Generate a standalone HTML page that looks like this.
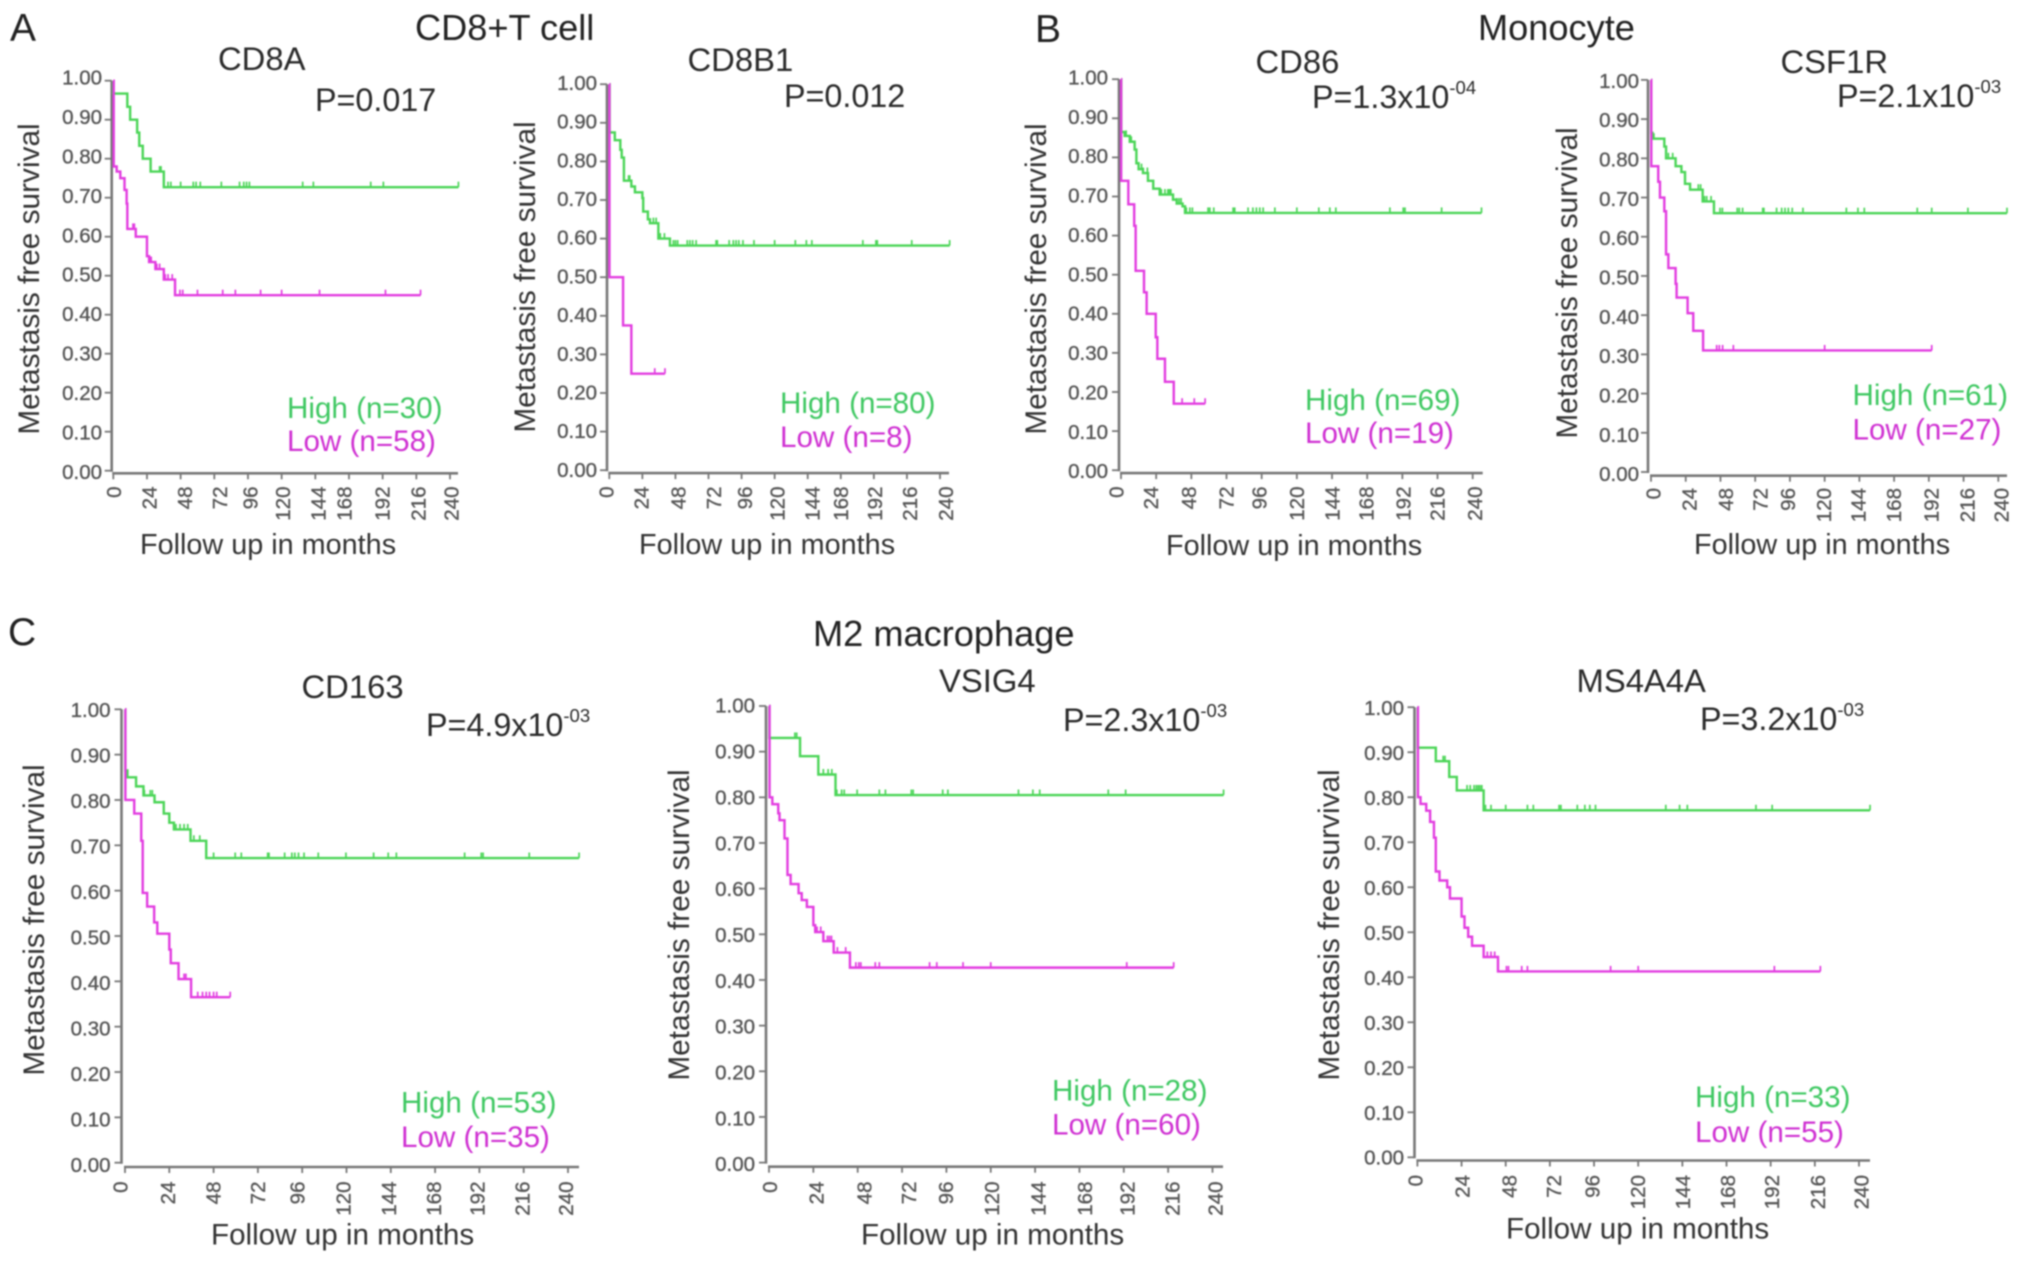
<!DOCTYPE html>
<html lang="en">
<head>
<meta charset="utf-8">
<title>Metastasis free survival by immune cell marker</title>
<style>
html,body{margin:0;padding:0;background:#fff;}
body{width:2031px;height:1263px;overflow:hidden;}
svg{display:block;filter:blur(0.8px);font-family:"Liberation Sans",Arial,sans-serif;}
.sec{font-size:36.2px;fill:#222;}
.let{font-size:39px;fill:#222;}
.gene{font-size:32.8px;fill:#2a2a2a;}
.pv{font-size:32.3px;fill:#2a2a2a;}
.sup{font-size:18.5px;}
.hi{font-size:29.6px;fill:#3fc862;}
.lo{font-size:29.6px;fill:#cf30d2;}
.yt{font-size:29.8px;fill:#333;text-anchor:middle;}
.xt{font-size:28.8px;fill:#333;}
.xtc{font-size:29.6px;fill:#333;}
.tk{font-size:20.5px;fill:#555;stroke:#555;stroke-width:0.35px;}
.tx{font-size:20.5px;fill:#555;stroke:#555;stroke-width:0.35px;}
</style>
</head>
<body>
<svg id="chart" width="2031" height="1263" viewBox="0 0 2031 1263" xmlns="http://www.w3.org/2000/svg">
<rect width="2031" height="1263" fill="#fff"/>

<text class="let" x="10" y="41">A</text>
<text class="sec" x="415" y="40">CD8+T cell</text>
<text class="let" x="1035" y="42">B</text>
<text class="sec" x="1478" y="40">Monocyte</text>
<text class="let" x="8" y="645">C</text>
<text class="sec" x="813" y="646">M2 macrophage</text>

<g>
<text class="gene" x="218" y="70">CD8A</text>
<text class="pv" x="315" y="111">P=0.017</text>
<text class="hi" x="287" y="418">High (n=30)</text>
<text class="lo" x="287" y="451">Low (n=58)</text>
<text class="yt" transform="translate(39,279) rotate(-90)">Metastasis free survival</text>
<text class="xt" x="140" y="554">Follow up in months</text>
</g>

<g>
<text class="gene" x="687.5" y="71">CD8B1</text>
<text class="pv" x="784" y="107">P=0.012</text>
<text class="hi" x="780" y="413">High (n=80)</text>
<text class="lo" x="780" y="447">Low (n=8)</text>
<text class="yt" transform="translate(535,277) rotate(-90)">Metastasis free survival</text>
<text class="xt" x="639" y="554">Follow up in months</text>
</g>

<g>
<text class="gene" x="1255.5" y="73">CD86</text>
<text class="pv" x="1312" y="108">P=1.3x10<tspan class="sup" dy="-14">-04</tspan></text>
<text class="hi" x="1305" y="410">High (n=69)</text>
<text class="lo" x="1305" y="443">Low (n=19)</text>
<text class="yt" transform="translate(1046,279) rotate(-90)">Metastasis free survival</text>
<text class="xt" x="1166" y="555">Follow up in months</text>
</g>

<g>
<text class="gene" x="1780.5" y="73">CSF1R</text>
<text class="pv" x="1837" y="107">P=2.1x10<tspan class="sup" dy="-14">-03</tspan></text>
<text class="hi" x="1852.5" y="405">High (n=61)</text>
<text class="lo" x="1852.5" y="439.5">Low (n=27)</text>
<text class="yt" transform="translate(1577,283) rotate(-90)">Metastasis free survival</text>
<text class="xt" x="1694" y="554">Follow up in months</text>
</g>

<g>
<text class="gene" x="301.5" y="698">CD163</text>
<text class="pv" x="426" y="736">P=4.9x10<tspan class="sup" dy="-14">-03</tspan></text>
<text class="hi" x="401" y="1112.5">High (n=53)</text>
<text class="lo" x="401" y="1147">Low (n=35)</text>
<text class="yt" transform="translate(44,920) rotate(-90)">Metastasis free survival</text>
<text class="xtc" x="211" y="1244.5">Follow up in months</text>
</g>

<g>
<text class="gene" x="939" y="692">VSIG4</text>
<text class="pv" x="1063" y="731">P=2.3x10<tspan class="sup" dy="-14">-03</tspan></text>
<text class="hi" x="1052" y="1100.5">High (n=28)</text>
<text class="lo" x="1052" y="1134.5">Low (n=60)</text>
<text class="yt" transform="translate(689,925) rotate(-90)">Metastasis free survival</text>
<text class="xtc" x="861" y="1244.5">Follow up in months</text>
</g>

<g>
<text class="gene" x="1576.5" y="692">MS4A4A</text>
<text class="pv" x="1700" y="730">P=3.2x10<tspan class="sup" dy="-14">-03</tspan></text>
<text class="hi" x="1695" y="1107">High (n=33)</text>
<text class="lo" x="1695" y="1142">Low (n=55)</text>
<text class="yt" transform="translate(1339,925) rotate(-90)">Metastasis free survival</text>
<text class="xtc" x="1506" y="1238.5">Follow up in months</text>
</g>
</svg>

<script>
const xTickLabels = [0, 24, 48, 72, 96, 120, 144, 168, 192, 216, 240];
const yTickLabels = ['0.00', '0.10', '0.20', '0.30', '0.40', '0.50', '0.60', '0.70', '0.80', '0.90', '1.00'];

const cd8aHighTimes = [0, 0, 10, 12, 17, 18.5, 21, 26.6, 36];
const cd8aHighSurv = [1, 0.967, 0.933, 0.90, 0.867, 0.833, 0.80, 0.767, 0.727];
const cd8aHighCensor = [33, 34, 39, 41, 48, 57, 59, 62, 77, 90, 93, 95, 97, 135, 142.6, 183.5, 192.5, 246];
const cd8aLowTimes = [0, 0.3, 2.4, 5, 8, 9.5, 10, 16, 24, 25.5, 30, 36, 44];
const cd8aLowSurv = [1, 0.78, 0.767, 0.75, 0.72, 0.685, 0.62, 0.60, 0.55, 0.535, 0.517, 0.49, 0.45];
const cd8aLowCensor = [14, 15, 26, 27, 31, 33, 37, 39, 42, 47.5, 49.5, 60, 78, 87, 105, 120, 147, 194, 219];

const cd8b1HighTimes = [0, 0.2, 4, 8, 9, 10.6, 16, 18.6, 24, 24.6, 28, 29.5, 35.6, 44];
const cd8b1HighSurv = [1, 0.875, 0.855, 0.83, 0.81, 0.75, 0.735, 0.72, 0.705, 0.67, 0.65, 0.64, 0.60, 0.582];
const cd8b1HighCensor = [4, 14, 14.8, 32, 34, 37, 40, 46.5, 48, 49.6, 56.6, 58.5, 60.5, 63, 77.5, 78.4, 87, 90, 92, 94, 97, 105, 120, 135, 143, 147, 184, 193.5, 194.5, 219.5, 247];
const cd8b1LowTimes = [0, 0.1, 10, 16];
const cd8b1LowSurv = [1, 0.5, 0.375, 0.25];
const cd8b1LowCensor = [33, 40.4];

const cd86HighTimes = [0, 0.2, 2.5, 6, 9.3, 10.5, 12, 15, 18.4, 22, 26.4, 35.5, 38, 42, 43.7];
const cd86HighSurv = [1, 0.865, 0.855, 0.84, 0.82, 0.785, 0.77, 0.76, 0.74, 0.72, 0.705, 0.692, 0.682, 0.675, 0.658];
const cd86HighCensor = [3.5, 7, 14, 15, 18, 27.5, 30, 32, 33, 34, 38, 39.6, 41, 44.6, 47, 48.7, 59.4, 60.6, 63.3, 76.5, 77.6, 86.7, 90, 92.4, 94.7, 97, 105, 120, 135, 142.5, 146.6, 183.5, 192.6, 193.8, 218.8, 246];
const cd86LowTimes = [0, 0.1, 5, 9, 10, 15.7, 17.5, 23.7, 24.8, 30, 36];
const cd86LowSurv = [1, 0.74, 0.68, 0.625, 0.51, 0.455, 0.40, 0.34, 0.285, 0.226, 0.17];
const cd86LowCensor = [41.7, 50, 57.4];

const csf1rHighTimes = [0, 0.2, 1, 9.2, 10.4, 17, 21, 23.5, 27, 35.7, 43.5];
const csf1rHighSurv = [1, 0.865, 0.85, 0.83, 0.80, 0.78, 0.765, 0.735, 0.72, 0.69, 0.66];
const csf1rHighCensor = [2, 12, 15, 32.7, 34.3, 37, 38.5, 41.5, 47.7, 49.3, 59.6, 61, 63.3, 77.2, 78, 86.8, 90.3, 92.6, 94.9, 97.6, 105, 135, 143, 147.4, 184, 194, 219, 246];
const csf1rLowTimes = [0, 0.2, 5, 6.2, 9.2, 10.4, 12, 17, 17.7, 25.3, 29.2, 36];
const csf1rLowSurv = [1, 0.78, 0.74, 0.70, 0.665, 0.555, 0.52, 0.48, 0.445, 0.405, 0.36, 0.31];
const csf1rLowCensor = [45.4, 47.2, 49.5, 56.9, 120, 194];

const cd163HighTimes = [0, 0.2, 1.3, 6, 10, 16, 21, 24, 26.5, 35.5, 44];
const cd163HighSurv = [1, 0.865, 0.85, 0.83, 0.81, 0.795, 0.77, 0.75, 0.735, 0.71, 0.672];
const cd163HighCensor = [10.5, 13.7, 14.8, 27.6, 29.8, 32, 34, 37.3, 40.5, 48, 59.7, 63, 77.3, 78, 86.5, 90.4, 92, 94, 97, 104.7, 119.7, 134.7, 142.6, 147, 184, 193, 194, 219, 246];
const cd163LowTimes = [0, 0.2, 5, 8.8, 9.6, 12, 15.8, 17.5, 24, 24.8, 29, 35.8];
const cd163LowSurv = [1, 0.80, 0.77, 0.71, 0.595, 0.565, 0.53, 0.505, 0.47, 0.44, 0.405, 0.365];
const cd163LowCensor = [32, 33, 39.4, 42, 44, 45.8, 48, 49.7, 57];

const vsig4HighTimes = [0, 0.2, 16.8, 26.7, 36];
const vsig4HighSurv = [1, 0.93, 0.89, 0.85, 0.805];
const vsig4HighCensor = [14, 15, 29.4, 32, 34, 36.7, 39.3, 40.7, 47.7, 59.7, 63, 77, 78, 94, 96.8, 135, 142.8, 146.5, 183.6, 193, 246];
const vsig4LowTimes = [0, 0.3, 1.8, 5, 5.7, 8.4, 10, 11.7, 16, 17.7, 20.5, 24, 25, 29.4, 35, 43.8];
const vsig4LowSurv = [1, 0.80, 0.785, 0.765, 0.75, 0.71, 0.63, 0.61, 0.59, 0.575, 0.56, 0.52, 0.505, 0.485, 0.46, 0.427];
const vsig4LowCensor = [26, 28, 31.6, 32.7, 33.8, 37, 41.5, 47, 48.6, 49.7, 57.5, 59.7, 86.9, 90.8, 105, 120, 193.6, 219];

const ms4a4aHighTimes = [0, 0.2, 10, 17.3, 21.4, 36];
const ms4a4aHighSurv = [1, 0.91, 0.88, 0.845, 0.815, 0.771];
const ms4a4aHighCensor = [14, 15, 27, 28.7, 30.8, 32, 33, 34, 35, 37, 40, 48, 59.8, 63, 77, 78, 86.9, 91, 93.7, 96.8, 135, 142.5, 146.7, 184, 192.8, 246];
const ms4a4aLowTimes = [0, 0.3, 1.7, 4.8, 6.9, 9, 10, 12, 16.2, 17.7, 24, 25.6, 27.6, 29.7, 36, 43.8];
const ms4a4aLowSurv = [1, 0.80, 0.785, 0.77, 0.745, 0.71, 0.635, 0.615, 0.60, 0.575, 0.535, 0.51, 0.49, 0.47, 0.445, 0.413];
const ms4a4aLowCensor = [38, 40, 42, 48.4, 49.5, 56.7, 59.8, 105, 120, 194, 219];

const SVG_NS = 'http://www.w3.org/2000/svg';
const chart = document.getElementById('chart');

function svgEl(tag, attrs, parent) {
  const n = document.createElementNS(SVG_NS, tag);
  for (const k in attrs) n.setAttribute(k, attrs[k]);
  parent.appendChild(n);
  return n;
}

function stepPath(times, surv, endTime, x, y) {
  let d = 'M' + x(times[0]).toFixed(2) + ' ' + y(surv[0]).toFixed(2);
  for (let i = 1; i < times.length; i++) {
    d += 'H' + x(times[i]).toFixed(2) + 'V' + y(surv[i]).toFixed(2);
  }
  return d + 'H' + x(endTime).toFixed(2);
}

function survivalAt(times, surv, t) {
  let v = surv[0];
  for (let i = 0; i < times.length; i++) {
    if (times[i] <= t) v = surv[i];
  }
  return v;
}

function drawSeries(panel, kind, color, times, surv, censor, x, y, root) {
  const endTime = Math.max.apply(null, censor);
  const curve = svgEl('path', {
    d: stepPath(times, surv, endTime, x, y), fill: 'none', stroke: color, 'stroke-width': 2.4
  }, root);
  
  
  censor.forEach(function (t) {
    const v = survivalAt(times, surv, t);
    const mark = svgEl('line', {
      x1: x(t), x2: x(t), y1: y(v) - 5.5, y2: y(v), stroke: color, 'stroke-width': 1.7
    }, root);
    
    
  });
}

function drawPanel(panel, box, high, low) {
  const root = svgEl('g', {}, chart);
  
  
  const x = function (m) { return box.x0 + m * (box.x240 - box.x0) / 240; };
  const y = function (v) { return box.yBottom - v * (box.yBottom - box.yTop); };
  const yLab = function (v) { return box.labBottom - v * (box.labBottom - box.labTop); };
  const axisColor = '#777';

  const yAxis = svgEl('line', {
    x1: box.axisX, x2: box.axisX, y1: y(1), y2: y(0) + 1, stroke: axisColor, 'stroke-width': 2.6
  }, root);
  
  

  const xAxis = svgEl('line', {
    x1: x(0) - 1, x2: box.xEnd, y1: box.axisY, y2: box.axisY, stroke: axisColor, 'stroke-width': 2.6
  }, root);
  
  

  yTickLabels.forEach(function (lab) {
    const val = parseFloat(lab);
    const py = y(val);
    const tick = svgEl('line', {
      x1: box.axisX - 7, x2: box.axisX, y1: py, y2: py, stroke: axisColor, 'stroke-width': 1.8
    }, root);
    
    
    const txt = svgEl('text', { x: box.labelRight, y: yLab(val) + 7.2, 'text-anchor': 'end', class: 'tk' }, root);
    txt.textContent = lab;
    
    
  });

  xTickLabels.forEach(function (m, i) {
    const px = x(m);
    const tick = svgEl('line', {
      x1: px, x2: px, y1: box.axisY, y2: box.axisY + 6, stroke: axisColor, 'stroke-width': 1.8
    }, root);
    
    
    const bx = px + box.labelShift[i] + 7;
    const txt = svgEl('text', {
      transform: 'translate(' + bx + ',' + box.labelTop + ') rotate(-90)', 'text-anchor': 'end', class: 'tx'
    }, root);
    txt.textContent = String(m);
    
    
  });

  drawSeries(panel, 'high', '#4bd557', high[0], high[1], high[2], x, y, root);
  drawSeries(panel, 'low', '#e23ce0', low[0], low[1], low[2], x, y, root);
}

drawPanel('cd8a', { x0: 113.3, x240: 450, xEnd: 458, yTop: 80.7, yBottom: 470.7, labTop: 77.3, labBottom: 471.7, axisX: 111.7, axisY: 473.3, labelRight: 102, labelTop: 486.5,
  labelShift: [0.7, 2.7, 4.3, 5.7, 2.3, 1.3, 3, -4.6, -0.3, 2, 1.7] },
  [cd8aHighTimes, cd8aHighSurv, cd8aHighCensor], [cd8aLowTimes, cd8aLowSurv, cd8aLowCensor]);
drawPanel('cd8b1', { x0: 609.3, x240: 940, xEnd: 949, yTop: 84.2, yBottom: 470.2, labTop: 82.8, labBottom: 469.6, axisX: 607, axisY: 473.1, labelRight: 597, labelTop: 486.5,
  labelShift: [-2.7, -0.7, 3, 5.3, 3.3, 2.7, 5, 0, 1, 3, 6] },
  [cd8b1HighTimes, cd8b1HighSurv, cd8b1HighCensor], [cd8b1LowTimes, cd8b1LowSurv, cd8b1LowCensor]);
drawPanel('cd86', { x0: 1121, x240: 1472.7, xEnd: 1482.7, yTop: 79.2, yBottom: 470.2, labTop: 77.3, labBottom: 471, axisX: 1119, axisY: 473.1, labelRight: 1108, labelTop: 486.5,
  labelShift: [-4.7, -5.3, -2.3, 0, -2, 0.3, 0.7, -0.7, 1, 0, 2.3] },
  [cd86HighTimes, cd86HighSurv, cd86HighCensor], [cd86LowTimes, cd86LowSurv, cd86LowCensor]);
drawPanel('csf1r', { x0: 1651, x240: 1998.3, xEnd: 2007, yTop: 79.9, yBottom: 472, labTop: 80.6, labBottom: 473.9, axisX: 1648, axisY: 475.7, labelRight: 1639, labelTop: 488,
  labelShift: [2.3, 3.7, 5.7, 5.3, -1.7, -0.7, -1, 0, 2.7, 3.7, 3.3] },
  [csf1rHighTimes, csf1rHighSurv, csf1rHighCensor], [csf1rLowTimes, csf1rLowSurv, csf1rLowCensor]);
drawPanel('cd163', { x0: 125, x240: 568, xEnd: 579, yTop: 709.3, yBottom: 1162.7, labTop: 710, labBottom: 1165, axisX: 121.5, axisY: 1167, labelRight: 110.5, labelTop: 1181.5,
  labelShift: [-4.4, -1.2, 0, 0, -4.8, -3.2, -1.6, -1.2, -2, -1.2, -2] },
  [cd163HighTimes, cd163HighSurv, cd163HighCensor], [cd163LowTimes, cd163LowSurv, cd163LowCensor]);
drawPanel('vsig4', { x0: 769, x240: 1212.5, xEnd: 1223, yTop: 706, yBottom: 1162.6, labTop: 705.5, labBottom: 1164, axisX: 766, axisY: 1166.7, labelRight: 755, labelTop: 1181.5,
  labelShift: [1.2, 2.9, 6.6, 7, -0.4, 1.2, 3.3, 5.3, 3.7, 4.5, 2.9] },
  [vsig4HighTimes, vsig4HighSurv, vsig4HighCensor], [vsig4LowTimes, vsig4LowSurv, vsig4LowCensor]);
drawPanel('ms4a4a', { x0: 1417.4, x240: 1859, xEnd: 1870, yTop: 707.2, yBottom: 1157.3, labTop: 708, labBottom: 1157.5, axisX: 1414.5, axisY: 1160.5, labelRight: 1404, labelTop: 1175,
  labelShift: [-1.9, 0.8, 3.8, 4.2, -1.5, 0, 0.8, 1.5, 1.5, 3, 2.3] },
  [ms4a4aHighTimes, ms4a4aHighSurv, ms4a4aHighCensor], [ms4a4aLowTimes, ms4a4aLowSurv, ms4a4aLowCensor]);
</script>
</body>
</html>
